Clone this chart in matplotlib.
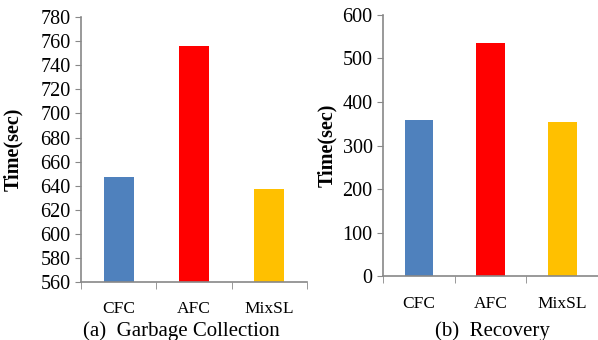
import matplotlib
matplotlib.use("Agg")
import matplotlib.pyplot as plt

matplotlib.rcParams['font.family'] = ['Liberation Serif', 'DejaVu Serif']

categories = ["CFC", "AFC", "MixSL"]
gc_times = [647, 756, 637]
recovery_times = [358, 535, 353]
colors = ["#4f81bd", "#ff0000", "#ffc000"]

gc_ticks = list(range(560, 781, 20))
rec_ticks = list(range(0, 601, 100))

fig = plt.figure(figsize=(5.98, 3.40), dpi=100)
ax1 = fig.add_axes([0.1355, 0.1706, 0.378, 0.779])
ax2 = fig.add_axes([0.6405, 0.188, 0.3595, 0.768])

# axes, values, y ticks, caption, caption x, ylabel x (axes fraction)
panels = [
    (ax1, gc_times, gc_ticks, "(a)  Garbage Collection", 0.303, -0.257),
    (ax2, recovery_times, rec_ticks, "(b)  Recovery", 0.823, -0.214),
]

for ax, vals, ticks, caption, cx, lx in panels:
    x = range(len(categories))
    ax.bar(x, vals, width=0.4, color=colors)
    ax.set_xlim(-0.5, 2.5)
    ax.set_ylim(ticks[0], ticks[-1])
    ax.set_yticks(ticks)
    ax.set_xticks(list(x))
    ax.set_xticklabels(categories)
    ax.set_xticks([-0.5, 0.5, 1.5, 2.5], minor=True)
    ax.tick_params(axis="x", which="major", length=0, pad=14, labelsize=12.5)
    ax.tick_params(axis="x", which="minor", length=5, direction="out", color="#888888")
    ax.tick_params(axis="y", length=4, direction="out", color="#888888", labelsize=14.5)
    for side in ["top", "right"]:
        ax.spines[side].set_visible(False)
    for side in ["left", "bottom"]:
        ax.spines[side].set_color("#888888")
        ax.spines[side].set_linewidth(1.2)
    ax.set_ylabel("Time(sec)", fontsize=14.5, fontweight="bold")
    ax.yaxis.set_label_coords(lx, 0.5)
    fig.text(cx, 0.012, caption, ha="center", va="baseline", fontsize=15)

fig.savefig("out.png", dpi=100)
